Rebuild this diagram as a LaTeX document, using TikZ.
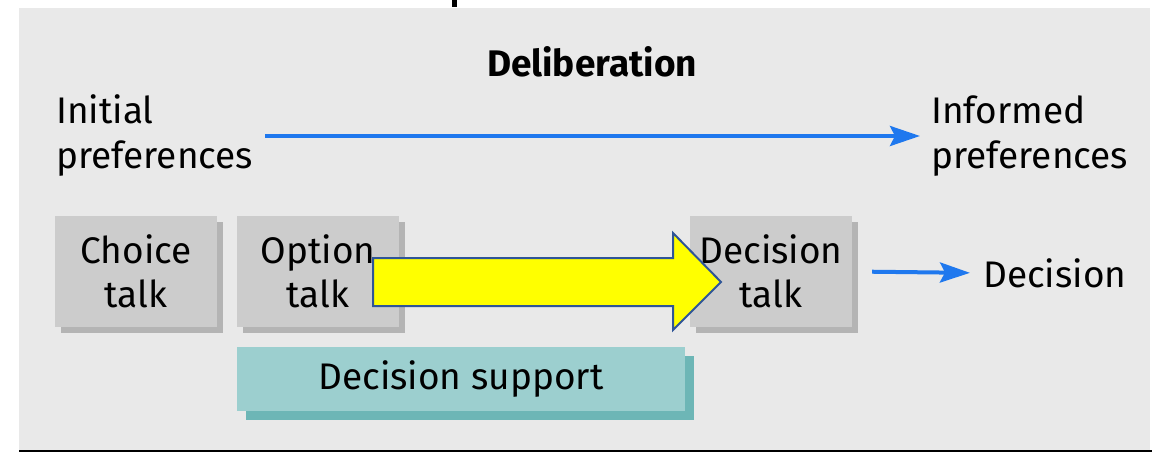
\documentclass[tikz,border=0pt]{standalone}
\usepackage{xcolor}
\usepackage{fontspec}
\setmainfont{Fira Sans}
\usepackage{tikz}
\usetikzlibrary{calc,arrows.meta,shadows}

\definecolor{panelgrey}{HTML}{E9E9E9}
\definecolor{boxgrey}{HTML}{CCCCCC}
\definecolor{boxshade}{HTML}{B4B4B4}
\definecolor{supteal}{HTML}{9CCFCF}
\definecolor{supshade}{HTML}{6DB6B6}
\definecolor{flowblue}{HTML}{1F78EE}
\definecolor{rimblue}{HTML}{2F5597}
\definecolor{hiyellow}{HTML}{FFFF00}

\tikzset{
	talkbox/.style={fill=boxgrey,minimum width=162pt,minimum height=111pt,align=center,
		font=\fontsize{37}{44}\selectfont,inner sep=0pt,
		drop shadow={shadow xshift=6pt,shadow yshift=-6pt,fill=boxshade,opacity=1}},
	label/.style={font=\fontsize{37}{45}\selectfont,align=left,inner sep=0pt},
	flow/.style={flowblue,line width=4pt,-{Stealth[length=30pt,width=20pt,inset=5pt]}}
}

\begin{document}
\begin{tikzpicture}[x=1pt,y=-1pt]
			\useasboundingbox (0,0) rectangle (1158,452);
			
			\fill[panelgrey] (19,8) rectangle (1150,450);
			\fill[black] (19,450) rectangle (1152,452);
			\fill[black] (452,0) rectangle (457,7);
			
			\node[font=\fontsize{37}{44}\selectfont\bfseries] (delib) at (592,62) {Deliberation};
			
			\node[label,anchor=west] (init) at (56,136) {Initial\\preferences};
			\node[label,anchor=west] (inform) at (931,136) {Informed\\preferences};
			\draw[flow,shorten <=12pt,shorten >=11pt] (init.east) -- (inform.west);
			
			\node[talkbox] (choice) at (136,271.5) {Choice\\talk};
			\node[talkbox] (option) at (318,271.5) {Option\\talk};
			\node[talkbox] (dtalk) at (771,271.5) {Decision\\talk};
			
			\node[fill=supteal,minimum width=448pt,minimum height=64pt,inner sep=0pt,
				font=\fontsize{37}{44}\selectfont,
				drop shadow={shadow xshift=9pt,shadow yshift=-9pt,fill=supshade,opacity=1}]
				(support) at (461,379) {Decision support};
			
			\node[label,anchor=west] (decision) at (983,273) {Decision};
			\draw[flow,shorten <=20pt,shorten >=13pt] (dtalk.east) -- (decision.west);
			
			\draw[rimblue,line width=2pt,fill=hiyellow,line join=miter]
				(373,258) -- (673,258) -- (673,233) -- (721,282) -- (673,330) -- (673,306) -- (373,306) -- cycle;
		\end{tikzpicture}
\end{document}
